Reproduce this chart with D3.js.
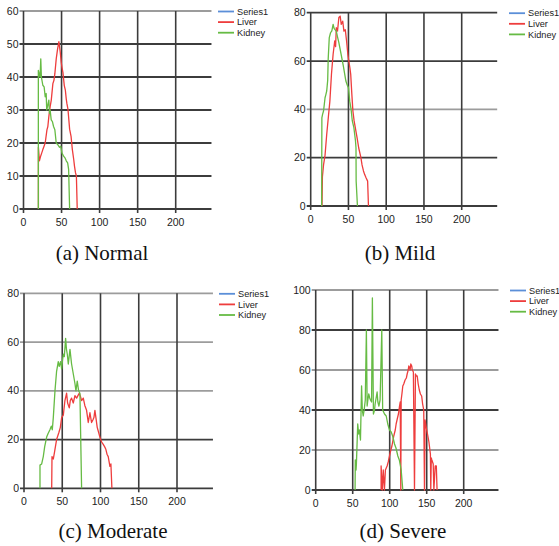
<!DOCTYPE html>
<html>
<head>
<meta charset="utf-8">
<script src="https://cdn.jsdelivr.net/npm/d3@7"></script>
<style>
body{margin:0;background:#fff;}
svg{display:block;}
</style>
</head>
<body>
<svg id="fig" width="559" height="546"></svg>
<script>
// tick values shared by all four plots
var xTicks = [0,50,100,150,200];
var seriesNames = ['Series1','Liver','Kidney'];

// (a) Normal
var normalLiver = [[19.6,0],[19.6,18.7],[20.9,14.6],[22.5,16],[24,17],[25.4,18],[27,19],[28.5,20],[30.8,24],[32,25],[33.3,28],[35,31],[36.5,33],[38.6,38],[40,39],[41.2,41],[43,45.5],[44.8,48.5],[46.5,50.7],[48.3,47.5],[49.6,44.4],[50.5,43],[51.8,41.4],[53.6,37.4],[55,36],[56.2,33.3],[57,32],[58.4,30.3],[60.6,24.2],[62.5,22],[64.2,18],[66,15],[67,13],[68.3,11],[69.5,10],[70.6,0]];
var normalKidney = [[19.5,0],[19.5,42],[20.5,41],[21.8,40],[22.7,45.5],[23.5,40],[25.4,37.5],[27.1,37],[28.5,34],[29.8,35],[30.5,30],[31.5,31],[33.3,33],[34.2,29],[35,30],[36.4,27],[38,26.5],[39.5,25],[41.2,24],[43,20],[45,19.5],[47.4,18.7],[49,19],[50.5,17],[52.7,16],[54.5,15.5],[56.2,14.6],[58,14],[59.3,12],[60.6,0]];
var normalYTicks = [0,10,20,30,40,50,60];

// (b) Mild
var mildLiver = [[15,0],[15.5,12],[17,17],[19,21],[21.2,29.6],[23.3,36.5],[25.4,43.4],[27.5,54.5],[29.7,62.8],[31.8,68.3],[33,66],[33.9,73.8],[35.5,72.4],[37.3,78],[39,78.6],[40.5,75.2],[42.4,76.5],[44,72.4],[45.8,73],[47.5,68.3],[49.2,62.8],[50.5,60],[52,57],[53,54.5],[54.5,46.2],[55.9,39.3],[57.5,35.2],[59.3,32],[61.4,28.3],[63.6,24],[66.5,20],[68,17],[69.9,14.5],[71.5,13],[73.3,11.7],[75.4,10.3],[76.5,0]];
var mildKidney = [[14.5,0],[14.8,36.5],[15.8,38],[17,39.3],[18,42],[19,44.8],[20,46],[21.2,47.6],[22.5,52],[23.2,61],[24.6,69.7],[26.3,71.7],[28,72.5],[29.7,75.2],[31,73.5],[32.2,73],[33.9,72.4],[35.5,70],[37.3,67.6],[40.3,62.8],[43.2,58],[46.6,51.7],[48.5,50],[50,49],[51.7,43.4],[53.5,40],[55.1,35.2],[57.2,32.4],[59.3,27],[60,24],[60.2,10.3],[61.9,0]];
var mildYTicks = [0,20,40,60,80];

// (c) Moderate
var moderateLiver = [[36.2,0],[36.6,13],[38.3,12],[40,15],[42.6,20],[45.7,23],[47.5,25],[49.2,29],[51.4,30],[53.5,36],[55.7,39],[57,35],[59.2,33],[60.5,36],[62.2,37],[64.4,35],[66.6,38],[68.8,37],[70.5,38],[72.2,39],[73.5,38],[75.3,36],[77.5,37],[79.5,34],[81.8,32],[84,27],[86.2,31],[88.3,27],[90,28],[91.4,29],[92.7,32],[94,29],[95.7,25],[97.5,23],[99.2,21],[101.5,19],[103.6,18],[105.5,17],[107,16],[108.5,14],[110.1,13],[112.3,9],[113.6,10],[114.9,0]];
var moderateKidney = [[20.9,0],[20.9,9.5],[23.1,10],[25.2,13],[27,17],[29.6,21],[31.5,22.5],[33.9,24],[35.7,25.5],[37,24],[38.3,29],[40.5,40],[42.6,48],[44.8,52],[46.1,50],[47.9,52],[49.2,49],[50.5,53],[51.4,55],[52.7,54],[54.4,61.5],[55.5,57],[56.6,55],[57.9,51],[60.1,57],[62.2,51],[64.4,47],[66.6,43],[67.9,40],[69.6,44],[71.4,40],[73.1,39],[75.3,0]];
var moderateYTicks = [0,20,40,60,80];

// (d) Severe
var severeLiver = [[88.4,0],[88.4,12],[90,0],[91.3,10],[92.9,0],[94.2,10],[96.5,12],[98,14],[99.7,17],[101.5,20],[103,22],[105.5,27],[107.5,30],[108.7,33],[110.5,36],[111.8,38],[113.3,42],[114.2,44],[115,0],[115.5,45],[116.5,48],[117.7,52],[119,53],[120.8,55],[122.5,56],[123.6,58],[125,60],[125.8,62],[127,61],[127.6,60],[128.5,63],[129.8,62],[130.5,60],[132,59],[133.5,0],[134.8,58],[136,57],[137.2,57],[138.5,53],[140,50],[141.5,48],[143.2,47],[144.5,43],[146,40],[147,0],[147.8,35],[149.5,31],[151.6,27],[153,24],[155,18],[155.5,0],[156.2,16],[157,15],[158.8,13],[159.7,0],[161.5,12],[163,12],[164,0]];
var severeKidney = [[53.2,0],[53.5,15],[54.5,10],[55,13],[56.8,33],[58,28],[59,30],[60.5,25],[62,52],[63,40],[64.2,37],[65.5,40],[67,45],[68.5,80],[69.5,42],[70.5,45],[71.7,48],[73,46],[74,45],[75.5,44],[76.6,96],[78,38],[79.5,40],[80.3,43],[83,49],[84,44],[85.4,42],[87,45],[89.3,80],[90.5,40],[93,38],[95.3,37],[97.4,33],[99.7,30],[102,29],[104,27],[106.5,23],[108.5,21],[111,17],[113,15],[115.5,10],[117.7,0]];
var severeYTicks = [0,20,40,60,80,100];

var colors = {'Series1':'#5b8fd8','Liver':'#ee3d3d','Kidney':'#66bb44'};
var svg = d3.select("#fig");

// some horizontal grid lines came out lighter in the printed figure
function gridShade(panel, v){
	var light = {a:[60], b:[40], c:[40,60,80], d:[20,60,100]};
	return light[panel].indexOf(v) == -1 ? "#3c3c3c" : "#9c9c9c";
}

function draw_panel(p){
	var x = d3.scaleLinear().domain([0,200]).range([p.left,p.x200]);
	var y = d3.scaleLinear().domain([0,p.ymax]).range([p.bottom,p.top]);
	var right = x(247);
	var g = svg.append("g");

	// horizontal grid + y ticks
	g.selectAll(".hg").data(p.yTicks).enter().append("line")
		.attr("x1",p.left-4).attr("x2",right)
		.attr("y1",function(d){return y(d);})
		.attr("y2",function(d){return y(d);})
		.style("stroke",function(d){return gridShade(p.id,d);})
		.style("stroke-width",1.8);
	// vertical grid + x ticks
	g.selectAll(".vg").data(xTicks).enter().append("line")
		.attr("x1",function(d){return x(d);})
		.attr("x2",function(d){return x(d);})
		.attr("y1",p.top).attr("y2",p.bottom+4)
		.style("stroke","#3c3c3c")
		.style("stroke-width",1.6);

	g.selectAll(".yl").data(p.yTicks).enter().append("text")
		.attr("x",p.left-5)
		.attr("y",function(d){return y(d);})
		.attr("dy","0.35em")
		.attr("text-anchor","end")
		.style("font","10.5px 'Liberation Sans', Arial, sans-serif")
		.style("fill","#222")
		.text(function(d){return d;});
	g.selectAll(".xl").data(xTicks).enter().append("text")
		.attr("x",function(d){return x(d);})
		.attr("y",p.bottom+13)
		.attr("dy","0.35em")
		.attr("text-anchor","middle")
		.style("font","10.5px 'Liberation Sans', Arial, sans-serif")
		.style("fill","#222")
		.text(function(d){return d;});

	var line = d3.line()
		.x(function(d){return x(d[0]);})
		.y(function(d){return y(d[1]);});
	g.append("path").datum(p.liver)
		.attr("d",line)
		.style("fill","none")
		.style("stroke",colors['Liver'])
		.style("stroke-width",1.3)
		.style("stroke-linejoin","round");
	g.append("path").datum(p.kidney)
		.attr("d",line)
		.style("fill","none")
		.style("stroke",colors['Kidney'])
		.style("stroke-width",1.3)
		.style("stroke-linejoin","round");

	// legend
	for(var i=0;i<seriesNames.length;i++){
		var ly = p.top + 0.5 + i*10.6;
		g.append("line")
			.attr("x1",p.legendX).attr("x2",p.legendX+16)
			.attr("y1",ly).attr("y2",ly)
			.style("stroke",colors[seriesNames[i]])
			.style("stroke-width",1.8);
		g.append("text")
			.attr("x",p.legendX+19)
			.attr("y",ly)
			.attr("dy","0.35em")
			.style("font","9.2px 'Liberation Sans', Arial, sans-serif")
			.style("fill","#222")
			.text(seriesNames[i]);
	}

	svg.append("text")
		.attr("x",p.capX).attr("y",p.capY)
		.attr("text-anchor","middle")
		.style("font","21px 'Liberation Serif', 'Times New Roman', serif")
		.style("fill","#111")
		.text(p.caption);
	return 0;
}

draw_panel({id:'a', left:23.5, x200:175.7, top:11, bottom:209, ymax:60, yTicks:normalYTicks,
	liver:normalLiver, kidney:normalKidney, legendX:218, caption:'(a) Normal', capX:102, capY:260});
draw_panel({id:'b', left:310.7, x200:461.7, top:12.7, bottom:206, ymax:80, yTicks:mildYTicks,
	liver:mildLiver, kidney:mildKidney, legendX:509, caption:'(b) Mild', capX:400, capY:260});
draw_panel({id:'c', left:24, x200:177, top:293.3, bottom:488.3, ymax:80, yTicks:moderateYTicks,
	liver:moderateLiver, kidney:moderateKidney, legendX:219, caption:'(c) Moderate', capX:113, capY:538});
draw_panel({id:'d', left:315.7, x200:463.7, top:290, bottom:490, ymax:100, yTicks:severeYTicks,
	liver:severeLiver, kidney:severeKidney, legendX:510, caption:'(d) Severe', capX:403, capY:538});
</script>
</body>
</html>
